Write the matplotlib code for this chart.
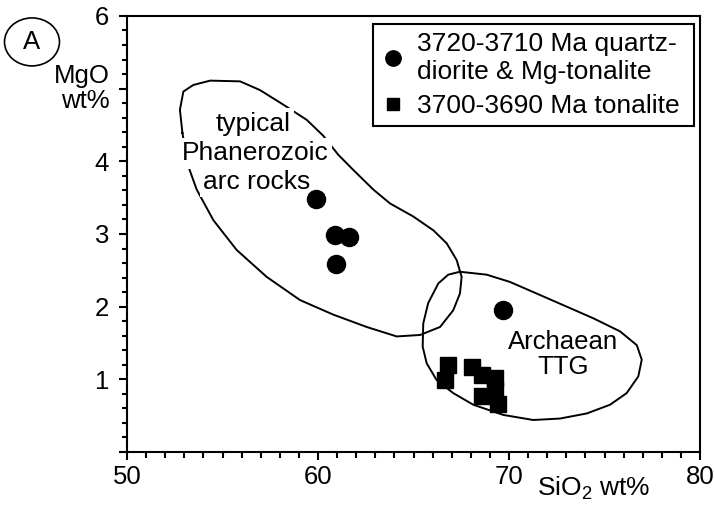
import numpy as np
import matplotlib
matplotlib.use('Agg')
import matplotlib.pyplot as plt
from matplotlib.patches import Ellipse

plt.rcParams['font.family'] = ['Liberation Sans', 'DejaVu Sans']
plt.rcParams['mathtext.default'] = 'regular'

# 3720-3710 Ma quartz-diorite & Mg-tonalite
qd_sio2 = [59.9, 60.9, 61.6, 60.95, 69.7]
qd_mgo = [3.48, 2.98, 2.96, 2.59, 1.95]

# 3700-3690 Ma tonalite
ton_sio2 = [66.8, 66.65, 68.05, 68.57, 69.27, 69.27, 68.59, 69.42]
ton_mgo = [1.20, 0.99, 1.17, 1.06, 1.02, 0.85, 0.77, 0.66]

# field outlines
phan_sio2 = [52.90, 52.77, 52.95, 53.47, 54.35, 55.92, 56.96, 58.18, 59.41, 60.28,
             61.06, 61.85, 62.90, 63.77, 64.99, 66.04, 66.74, 67.26, 67.52, 67.43,
             67.08, 66.39, 65.34, 64.12, 62.55, 60.80, 59.06, 57.31, 55.74, 54.52,
             53.65, 53.21, 52.90]
phan_mgo = [4.39, 4.71, 4.96, 5.05, 5.11, 5.10, 4.98, 4.78, 4.57, 4.35,
            4.09, 3.88, 3.61, 3.42, 3.24, 3.05, 2.87, 2.64, 2.41, 2.18,
            1.95, 1.72, 1.61, 1.59, 1.72, 1.89, 2.09, 2.41, 2.78, 3.19,
            3.61, 3.93, 4.39]

ttg_sio2 = [67.43, 68.83, 70.05, 71.45, 73.02, 74.41, 75.81, 76.69, 76.95, 76.77,
            76.16, 75.29, 74.07, 72.67, 71.27, 69.70, 68.13, 67.08, 66.21, 65.69,
            65.48, 65.51, 65.77, 66.30, 66.82, 67.43]
ttg_mgo = [2.48, 2.44, 2.34, 2.18, 2.00, 1.84, 1.66, 1.47, 1.27, 1.04,
           0.81, 0.65, 0.53, 0.46, 0.44, 0.51, 0.65, 0.81, 0.99, 1.22,
           1.45, 1.77, 2.05, 2.32, 2.44, 2.48]

fig = plt.figure(figsize=(7.14, 5.05), dpi=100)
ax = fig.add_axes([0.1779, 0.105, 0.8025, 0.8634])

ax.plot(phan_sio2, phan_mgo, color='black', lw=1.4, zorder=2)
ax.plot(ttg_sio2, ttg_mgo, color='black', lw=1.4, zorder=2)

ax.plot(qd_sio2, qd_mgo, 'o', color='black', ms=13, zorder=5,
        label='3720-3710 Ma quartz-\ndiorite & Mg-tonalite')
ax.plot(ton_sio2, ton_mgo, 's', color='black', ms=11, zorder=5,
        label='3700-3690 Ma tonalite')

# field labels (white boxes break the outline like the original)
box = dict(facecolor='white', edgecolor='none', pad=2.5)
ax.text(56.61, 4.52, 'typical', ha='center', va='center', fontsize=19, bbox=box, zorder=3)
ax.text(56.70, 4.11, 'Phanerozoic', ha='center', va='center', fontsize=19, bbox=box, zorder=3)
ax.text(56.79, 3.72, 'arc rocks', ha='center', va='center', fontsize=19, bbox=box, zorder=3)
ax.text(72.85, 1.34, 'Archaean\nTTG', ha='center', va='center', fontsize=18.5,
        linespacing=1.05, zorder=3)

ax.set_xlim(50, 80)
ax.set_ylim(0, 6)
ax.set_xticks([50, 60, 70, 80])
ax.set_xticks(np.arange(50, 81, 1), minor=True)
ax.set_yticks([0, 1, 2, 3, 4, 5, 6])
ax.set_yticklabels(['', '1', '2', '3', '4', '', '6'])
ax.set_yticks(np.arange(0, 6.01, 0.2), minor=True)
ax.tick_params(axis='both', which='both', direction='out', width=1.5, labelsize=18.5)
ax.tick_params(axis='x', which='major', length=5.5, pad=4)
ax.tick_params(axis='x', which='minor', length=4.5)
ax.tick_params(axis='y', which='major', length=6, pad=7)
ax.tick_params(axis='y', which='minor', length=3.6)
for s in ax.spines.values():
    s.set_linewidth(1.5)

ax.text(49.1, 5.0, 'MgO\nwt%', ha='right', va='center', fontsize=18.5,
        multialignment='right', linespacing=1.05, clip_on=False)
ax.text(74.45, -0.5, 'SiO$_2$ wt%', ha='center', va='center', fontsize=19, clip_on=False)

leg = ax.legend(loc='upper left', bbox_to_anchor=(0.4293, 0.0, 0.5602, 0.9817),
                mode='expand', borderaxespad=0, fontsize=19, frameon=True,
                fancybox=False, edgecolor='black', framealpha=1,
                handlelength=0.9, handletextpad=0.45, borderpad=0.3,
                labelspacing=0.4, markerscale=0.85)
leg.get_frame().set_linewidth(1.5)

# panel letter
fig.patches.append(Ellipse((0.0448, 0.917), 0.077, 0.095, transform=fig.transFigure,
                           facecolor='none', edgecolor='black', lw=1.2))
fig.text(0.0448, 0.917, 'A', ha='center', va='center', fontsize=18.5)

fig.savefig('out.png', dpi=100)
